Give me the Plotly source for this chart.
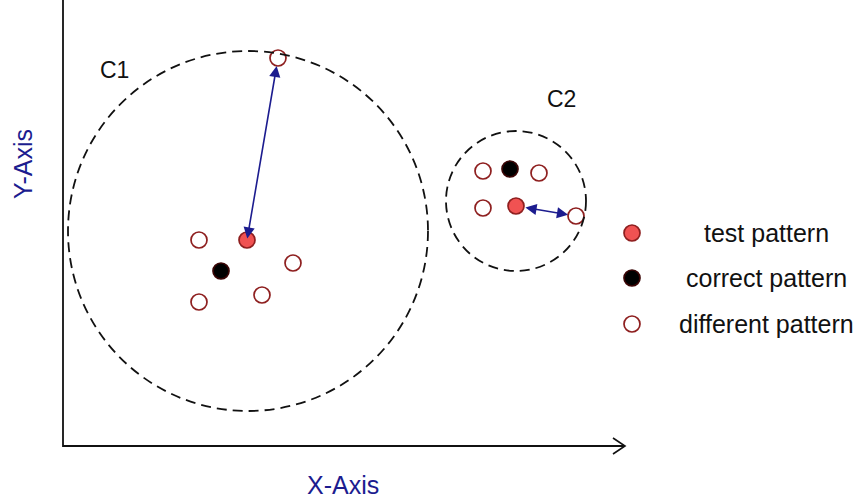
import plotly.graph_objects as go

# ---- data (diagram coordinates; origin at the axes' corner) ----
cluster_names = ["C1", "C2"]
cluster_cx = [185, 453]
cluster_cy = [215, 245]
cluster_r = [180, 70]
cluster_label_x = [51, 498]
cluster_label_y = [376, 347]

test_x = [184, 453]
test_y = [206, 240]

correct_x = [158, 447]
correct_y = [175, 277]

different_x = [215, 136, 230, 136, 199, 420, 476, 420, 513]
different_y = [388, 206, 183, 144, 151, 275, 273, 238, 230]

# arrows: from test pattern to farthest member of each cluster
arrow_from_x = [184, 453]
arrow_from_y = [206, 240]
arrow_to_x = [215, 513]
arrow_to_y = [388, 230]

legend_labels = ["test pattern", "correct pattern", "different pattern"]
legend_y = [213, 168, 122]

axis_x_end = 562
axis_y_end = 446

RED_FILL = "#f05252"
RED_EDGE = "#8e1f1f"
BLUE = "#1c1c8f"
FONT = "Liberation Sans, Arial, sans-serif"

fig = go.Figure()

# axes lines
fig.add_trace(go.Scatter(x=[0, 0, axis_x_end], y=[axis_y_end, 0, 0], mode="lines",
                         line=dict(color="#111", width=1.8), hoverinfo="skip", showlegend=False))
# arrow chevron at x-axis end
fig.add_trace(go.Scatter(x=[axis_x_end - 12, axis_x_end, axis_x_end - 12], y=[8, 0, -8], mode="lines",
                         line=dict(color="#111", width=1.6), hoverinfo="skip", showlegend=False))

# cluster circles
for cx, cy, r in zip(cluster_cx, cluster_cy, cluster_r):
    fig.add_shape(type="circle", xref="x", yref="y", x0=cx - r, x1=cx + r, y0=cy - r, y1=cy + r,
                  line=dict(color="#111", width=1.8, dash="10px,6px"))

# arrows
for fx, fy, tx, ty, s in zip(arrow_from_x, arrow_from_y, arrow_to_x, arrow_to_y, [0, 8]):
    fig.add_annotation(x=tx, y=ty, ax=fx, ay=fy, xref="x", yref="y", axref="x", ayref="y",
                       text="", showarrow=True, arrowhead=2, startarrowhead=2, arrowside="end+start",
                       arrowsize=1.4, startarrowsize=1.4, arrowwidth=1.6, arrowcolor=BLUE,
                       standoff=8, startstandoff=s)

# points
fig.add_trace(go.Scatter(x=different_x, y=different_y, mode="markers",
                         marker=dict(size=16, color="white", line=dict(color=RED_EDGE, width=1.7)),
                         showlegend=False))
fig.add_trace(go.Scatter(x=correct_x, y=correct_y, mode="markers",
                         marker=dict(size=16, color="black", line=dict(color="#3a0505", width=1.7)),
                         showlegend=False))
fig.add_trace(go.Scatter(x=test_x, y=test_y, mode="markers",
                         marker=dict(size=16, color=RED_FILL, line=dict(color=RED_EDGE, width=1.7)),
                         showlegend=False))

# cluster labels
for name, lx, ly in zip(cluster_names, cluster_label_x, cluster_label_y):
    fig.add_annotation(x=lx, y=ly, text=name, showarrow=False, font=dict(family=FONT, size=23, color="#111"))

# legend (manual)
leg_marker_x = 569
leg_text_x = 703
fig.add_trace(go.Scatter(x=[leg_marker_x] * 3, y=legend_y, mode="markers",
                         marker=dict(size=16, color=[RED_FILL, "black", "white"],
                                     line=dict(color=[RED_EDGE, "#3a0505", RED_EDGE], width=1.7)),
                         showlegend=False))
for lab, ly in zip(legend_labels, legend_y):
    fig.add_annotation(x=leg_text_x, y=ly, text=lab, showarrow=False,
                       font=dict(family=FONT, size=25, color="#111"))

# axis titles
fig.add_annotation(x=280, y=-39, text="X-Axis", showarrow=False, font=dict(family=FONT, size=25, color=BLUE))
fig.add_annotation(x=-40, y=282, text="Y-Axis", showarrow=False, textangle=-90,
                   font=dict(family=FONT, size=25, color=BLUE))

fig.update_layout(width=865, height=504, margin=dict(l=0, r=0, t=0, b=0),
                  plot_bgcolor="white", paper_bgcolor="white",
                  xaxis=dict(range=[-63, 802], visible=False, fixedrange=True),
                  yaxis=dict(range=[-58, 446], visible=False, fixedrange=True),
                  showlegend=False)

fig.write_html("out.html", config={"displayModeBar": False},
               post_script="document.body.style.margin='0';document.body.style.overflow='hidden';")
